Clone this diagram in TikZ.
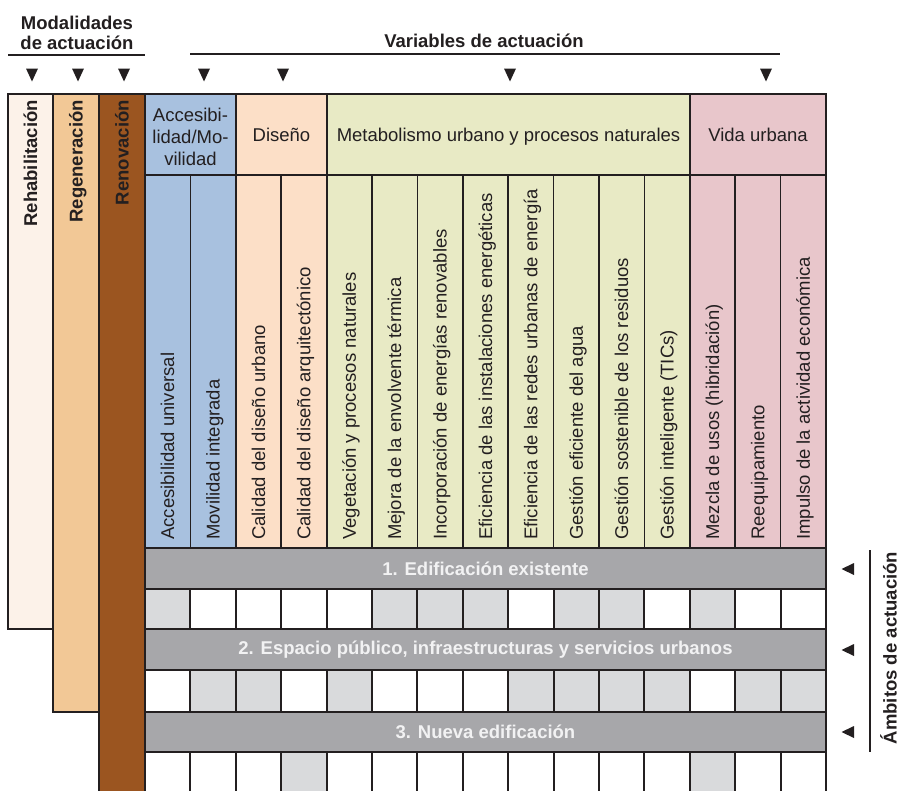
\documentclass[tikz,border=0pt]{standalone}
\usepackage{fontspec}
\setmainfont{Liberation Sans}
\definecolor{ink}{HTML}{231F20}
\definecolor{rehabc}{HTML}{FCF2E9}
\definecolor{regenc}{HTML}{F2C896}
\definecolor{renovc}{HTML}{9B5520}
\definecolor{accc}{HTML}{A8C1DF}
\definecolor{disc}{HTML}{FCDFC7}
\definecolor{metac}{HTML}{E8EAC5}
\definecolor{vidac}{HTML}{E8C6CB}
\definecolor{bandc}{HTML}{A7A7AA}
\definecolor{cellc}{HTML}{D9DADC}
\definecolor{bandtxt}{HTML}{F2F2F3}
\begin{document}
\begin{tikzpicture}[x=1pt,y=-1pt,
  lab/.style={font=\fontsize{18.5}{22}\selectfont, text=ink, inner sep=0pt},
  blab/.style={font=\bfseries\fontsize{18.5}{20}\selectfont, text=ink, inner sep=0pt},
  bandlab/.style={font=\bfseries\fontsize{18.5}{22}\selectfont, text=bandtxt, inner sep=0pt},
  vlab/.style={lab, rotate=90, anchor=west, text height=13pt, text depth=0pt},
  mlab/.style={blab, rotate=90, anchor=east, text height=13pt, text depth=0pt},
  thickl/.style={draw=ink, line width=2.8pt, line join=miter},
  medl/.style={draw=ink, line width=1.9pt},
  thinl/.style={draw=ink, line width=1.5pt},
  downtri/.pic={\fill[ink] (-6,-6.5) -- (6,-6.5) -- (0,6.5) -- cycle;},
  lefttri/.pic={\fill[ink] (-6.5,0) -- (6,-6) -- (6,6) -- cycle;}
]
\useasboundingbox (0,0) rectangle (904,790);
\clip (0,0) rectangle (904,790);

% ---------- fills ----------
\fill[rehabc] (8,94) rectangle (53,629);
\fill[regenc] (53,94) rectangle (99,712);
\fill[renovc] (99,94) rectangle (145,800);
\fill[accc] (145,94) rectangle (236,548);
\fill[disc] (236,94) rectangle (327,548);
\fill[metac] (327,94) rectangle (690,548);
\fill[vidac] (690,94) rectangle (826,548);
\fill[white] (145,589) rectangle (826,629);
\fill[white] (145,670) rectangle (826,712);
\fill[white] (145,752) rectangle (826,800);
\fill[bandc] (145,548) rectangle (826,589);
\fill[bandc] (145,629) rectangle (826,670);
\fill[bandc] (145,712) rectangle (826,752);
\foreach \c in {1,6,7,8,10,11,13}
  \fill[cellc] ({145+45.4*(\c-1)},589) rectangle ++(45.4,40);
\foreach \c in {2,3,5,9,10,11,12,14,15}
  \fill[cellc] ({145+45.4*(\c-1)},670) rectangle ++(45.4,42);
\foreach \c in {4,13}
  \fill[cellc] ({145+45.4*(\c-1)},752) rectangle ++(45.4,48);

% ---------- lines ----------
\foreach \c in {2,4,6,7,8,9,10,11,12,14,15}
  \draw[thinl] ({145+45.4*(\c-1)},175) -- ({145+45.4*(\c-1)},548);
\foreach \c in {2,...,15} {
  \draw[medl] ({145+45.4*(\c-1)},589) -- ({145+45.4*(\c-1)},629);
  \draw[medl] ({145+45.4*(\c-1)},670) -- ({145+45.4*(\c-1)},712);
  \draw[medl] ({145+45.4*(\c-1)},752) -- ({145+45.4*(\c-1)},800);
}
\draw[medl] (145,175) -- (826,175);
\draw[medl] (236,94) -- (236,548);
\draw[medl] (327,94) -- (327,548);
\draw[medl] (690,94) -- (690,548);
\draw[medl] (145,589) -- (826,589);
\draw[medl] (145,670) -- (826,670);
\draw[medl] (145,752) -- (826,752);
\draw[thickl] (145,548) -- (826,548);
\draw[thickl] (145,629) -- (826,629);
\draw[thickl] (145,712) -- (826,712);
\draw[thickl] (53,629) -- (8,629) -- (8,94) -- (826,94) -- (826,800);
\draw[thickl] (53,94) -- (53,712) -- (99,712);
\draw[thickl] (99,94) -- (99,800);
\draw[thickl] (145,94) -- (145,800);

% ---------- top headings ----------
\node[blab, align=center, anchor=base] (modal) at (77,49) {Modalidades\\de actuación};
\draw[thinl, line width=1.3pt] (8,55) coordinate (modL) -- (145,55) coordinate (modR);
\node[blab, anchor=base] (vars) at (484,47) {Variables de actuación};
\draw[thinl, line width=1.3pt] (190,54) coordinate (varL) -- (780,54) coordinate (varR);
\foreach \x in {32,78,124,204,283,510,766}
  \pic at (\x,75) {downtri};

% ---------- modalidades columns ----------
\node[mlab] (rehab) at (30.5,100) {Rehabilitación};
\node[mlab] (regen) at (76,100) {Regeneración};
\node[mlab] (renov) at (122,100) {Renovación};

% ---------- group headers ----------
\node[lab, align=center] (acc) at (190.5,137) {Accesibi-\\lidad/Mo-\\vilidad};
\node[lab, anchor=base] (dis) at (281.5,141) {Diseño};
\node[lab, anchor=base] (meta) at (508.5,141) {Metabolismo urbano y procesos naturales};
\node[lab, anchor=base] (vida) at (758,141) {Vida urbana};

% ---------- variable labels ----------
\foreach \t [count=\i] in {Accesibilidad universal, Movilidad integrada,
  Calidad del diseño urbano, Calidad del diseño arquitectónico,
  Vegetación y procesos naturales, Mejora de la envolvente térmica,
  Incorporación de energías renovables, Eficiencia de las instalaciones energéticas,
  Eficiencia de las redes urbanas de energía, Gestión eficiente del agua,
  Gestión sostenible de los residuos, Gestión inteligente (TICs),
  Mezcla de usos (hibridación), Reequipamiento, Impulso de la actividad económica}
  \node[vlab] (v\i) at ({145+45.4*(\i-0.5)},540) {\t};

% ---------- bands ----------
\node[bandlab] (b1) at (485.5,569) {1. Edificación existente};
\node[bandlab] (b2) at (485.5,650) {2. Espacio público, infraestructuras y servicios urbanos};
\node[bandlab] (b3) at (485.5,732) {3. Nueva edificación};

% ---------- ambitos ----------
\foreach \y in {569,650,732}
  \pic at (848,\y) {lefttri};
\draw[thinl, line width=1.3pt] (870,550) coordinate (ambT) -- (870,752) coordinate (ambB);
\node[blab, rotate=90, text height=13pt, text depth=0pt] (amb) at (890,648) {Ámbitos de actuación};
\end{tikzpicture}
\end{document}
